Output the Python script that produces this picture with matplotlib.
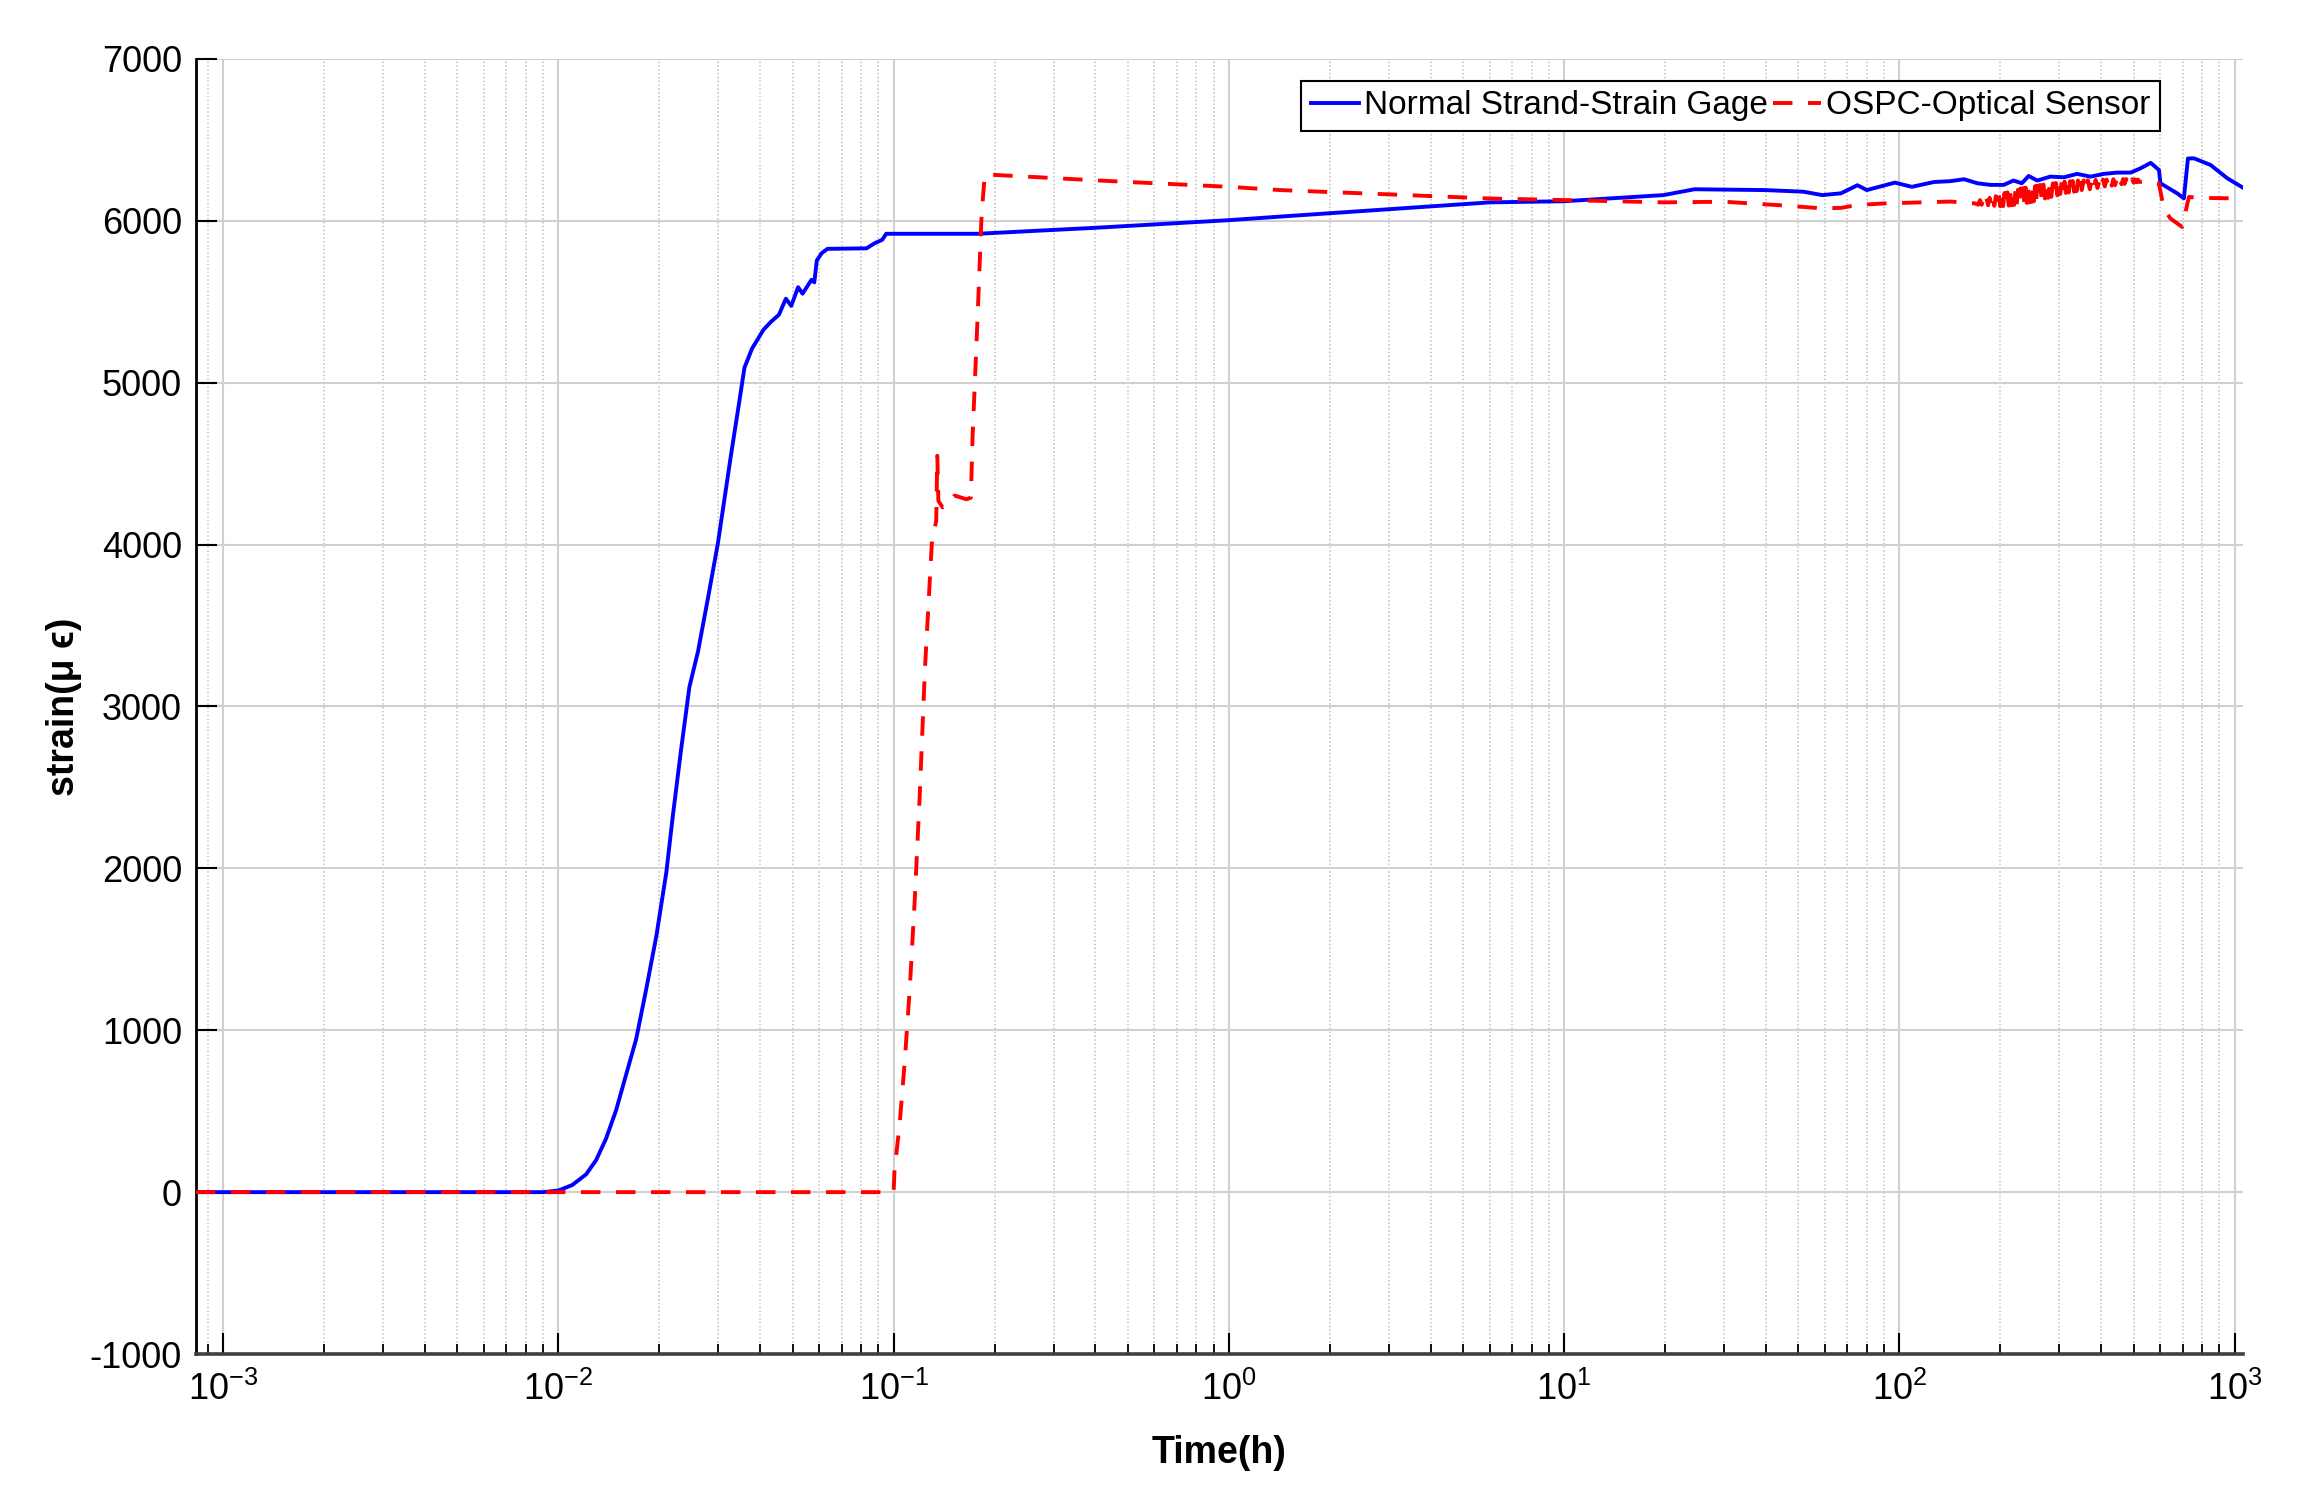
import matplotlib
matplotlib.use("Agg")
import matplotlib.pyplot as plt
from matplotlib.ticker import LogLocator, NullFormatter, FixedLocator

# strain gage on the normal strand (time in hours, strain in micro-strain)
gage_t = [0.00083, 0.009, 0.0100, 0.0110, 0.0121, 0.01296, 0.01387, 0.01486, 0.01592,
          0.01706, 0.01828, 0.0196, 0.0210, 0.0219, 0.0232, 0.0246, 0.0261, 0.0280,
          0.0299, 0.0327, 0.0345, 0.0359, 0.0378, 0.0409, 0.0431, 0.0455, 0.0477,
          0.0495, 0.0519, 0.0535, 0.0569, 0.0580, 0.0590, 0.0610, 0.0635, 0.083,
          0.0877, 0.0925, 0.095, 0.178, 0.40, 1.0, 1.42, 6.0, 10, 19.8, 24.5, 39.7,
          51.7, 58.9, 67, 75, 80, 97, 109, 127, 142, 156, 171, 187, 205, 219, 232,
          243, 258, 282, 310, 339, 372, 407, 447, 490, 525, 562, 595, 601, 674, 706,
          726, 757, 848, 951, 1067]
gage_strain = [0, 0, 10, 44, 110, 198, 330, 505, 725,
               945, 1253, 1582, 1978, 2308, 2725, 3121, 3341, 3680,
               4006, 4549, 4858, 5093, 5210, 5327, 5377, 5420, 5519,
               5475, 5590, 5550, 5636, 5620, 5755, 5800, 5827, 5830,
               5861, 5883, 5920, 5920, 5957, 6004, 6026, 6114, 6121, 6159, 6195, 6190,
               6180, 6159, 6170, 6220, 6190, 6236, 6210, 6240, 6245, 6257, 6232, 6222, 6222, 6249, 6232,
               6277, 6249, 6273, 6269, 6290, 6273, 6290, 6298, 6298, 6325, 6358, 6314, 6232, 6170, 6139,
               6385, 6386, 6345, 6263, 6201]

# OSPC optical sensor: loading jump and long-term drift
ospc_t_early = [0.00083, 0.100, 0.1006, 0.1042, 0.108, 0.1117, 0.1156, 0.1197, 0.124, 0.130,
                0.134, 0.135, 0.136, 0.140, 0.145, 0.152, 0.165, 0.170, 0.172, 0.178, 0.183,
                0.187, 0.199, 0.40, 1.0, 1.42, 3.4, 6.0, 10.2, 19.8, 30, 45, 59, 67, 75, 91,
                120, 142, 168]
ospc_strain_early = [0, 0, 132, 418, 813, 1253, 1802, 2462, 3231, 4006,
                     4148, 4549, 4270, 4230, 4240, 4303, 4280, 4290, 4667, 5400, 6037,
                     6284, 6284, 6250, 6210, 6190, 6159, 6138, 6128, 6114, 6118, 6095, 6077,
                     6080, 6098, 6108, 6115, 6119, 6108]

# OSPC optical sensor: dense cycling section (about 170-520 h)
ospc_t_cyclic = [172, 174, 176, 178, 180, 182, 184, 186, 188, 190, 192, 194, 196, 198, 200,
                 202, 204, 206, 208, 210, 212, 214, 216, 218, 220, 222, 224, 226, 228, 230,
                 232, 234, 236, 238, 240, 242, 244, 246, 248, 250, 252, 254, 256, 258, 260,
                 263, 266, 269, 272, 275, 278, 281, 284, 287, 290, 293, 296, 299, 302, 305,
                 308, 311, 314, 317, 320, 323, 326, 329, 332, 335, 338, 341, 344, 347, 350,
                 355, 360, 365, 370, 375, 380, 385, 390, 395, 400, 405, 410, 415, 420, 425,
                 430, 435, 440, 445, 450, 455, 460, 465, 470, 475, 480, 485, 490, 495, 500,
                 505, 510, 515, 520]
ospc_strain_cyclic = [6100, 6128, 6099, 6133, 6098, 6138, 6096, 6142, 6095, 6147, 6093, 6152, 6092, 6158, 6090,
                      6168, 6091, 6172, 6092, 6176, 6094, 6180, 6096, 6185, 6098, 6188, 6100, 6192, 6103, 6200,
                      6106, 6202, 6108, 6205, 6111, 6207, 6114, 6210, 6117, 6212, 6121, 6214, 6124, 6217, 6130,
                      6222, 6133, 6224, 6138, 6226, 6142, 6228, 6148, 6231, 6152, 6234, 6158, 6238, 6166, 6240,
                      6170, 6242, 6172, 6243, 6175, 6245, 6178, 6246, 6180, 6248, 6183, 6249, 6186, 6250, 6190,
                      6250, 6192, 6251, 6195, 6252, 6198, 6253, 6203, 6254, 6210, 6255, 6212, 6255, 6214, 6256,
                      6217, 6257, 6220, 6257, 6225, 6258, 6226, 6258, 6228, 6258, 6230, 6257, 6233, 6257, 6236,
                      6256, 6238, 6255, 6240]

# OSPC optical sensor: end of record
ospc_t_late = [560, 595, 615, 644, 698, 714, 731, 775, 900, 1067]
ospc_strain_late = [6245, 6230, 6075, 6014, 5962, 6055, 6148, 6142, 6140, 6138]

x_ticks = [1e-3, 1e-2, 1e-1, 1e0, 1e1, 1e2, 1e3]
y_ticks = [-1000, 0, 1000, 2000, 3000, 4000, 5000, 6000, 7000]

ospc_t = ospc_t_early + ospc_t_cyclic + ospc_t_late
ospc_strain = ospc_strain_early + ospc_strain_cyclic + ospc_strain_late

plt.rcParams['font.family'] = ['Liberation Sans', 'DejaVu Sans']
plt.rcParams['mathtext.default'] = 'regular'
plt.rcParams['axes.unicode_minus'] = False

fig = plt.figure(figsize=(23.06, 14.96), dpi=100)
ax = fig.add_axes([0.0850, 0.0949, 0.8877, 0.8657])

ax.semilogx(gage_t, gage_strain, color=(0, 0, 1), lw=2.8, label='Normal Strand-Strain Gage', zorder=3)
ax.semilogx(ospc_t, ospc_strain, color=(1, 0, 0), lw=2.8, dashes=(5, 4),
            label='OSPC-Optical Sensor', zorder=4)

ax.set_xlim(8.3e-4, 1.06e3)
ax.set_ylim(-1000, 7000)
ax.set_yticks(y_ticks)
ax.xaxis.set_major_locator(FixedLocator(x_ticks))
ax.xaxis.set_minor_locator(LogLocator(base=10, subs=range(2, 10), numticks=20))
ax.xaxis.set_minor_formatter(NullFormatter())

ax.grid(True, which='major', color='#d0d0d0', lw=1.5, ls='-')
ax.grid(True, which='minor', axis='x', color='#c0c0c0', lw=1.1, ls=(0, (1, 1.5)))
ax.set_axisbelow(True)

for side in ['top', 'right']:
    ax.spines[side].set_visible(False)
ax.spines['left'].set_color('black')
ax.spines['left'].set_linewidth(2)
ax.spines['bottom'].set_color('#404040')
ax.spines['bottom'].set_linewidth(2.6)

ax.tick_params(which='major', direction='in', length=15, width=1.5, labelsize=26, color='black')
ax.tick_params(which='minor', direction='in', length=7, width=1.3, color='black')
ax.tick_params(axis='x', which='major', pad=13)
ax.tick_params(axis='y', which='major', pad=10)

ax.set_xlabel('Time(h)', fontsize=27, fontweight='bold', labelpad=19)
ax.set_ylabel('strain(μ ϵ)', fontsize=27, fontweight='bold', labelpad=6)

leg = ax.legend(loc='upper right', bbox_to_anchor=(0.9594, 0.983), ncol=2, fontsize=24,
                frameon=True, fancybox=False, framealpha=1, edgecolor='black',
                borderpad=0.28, borderaxespad=0, handlelength=1.45, handletextpad=0.15,
                columnspacing=0.15)
leg.get_frame().set_linewidth(1.5)

fig.savefig('out.png', dpi=100)
